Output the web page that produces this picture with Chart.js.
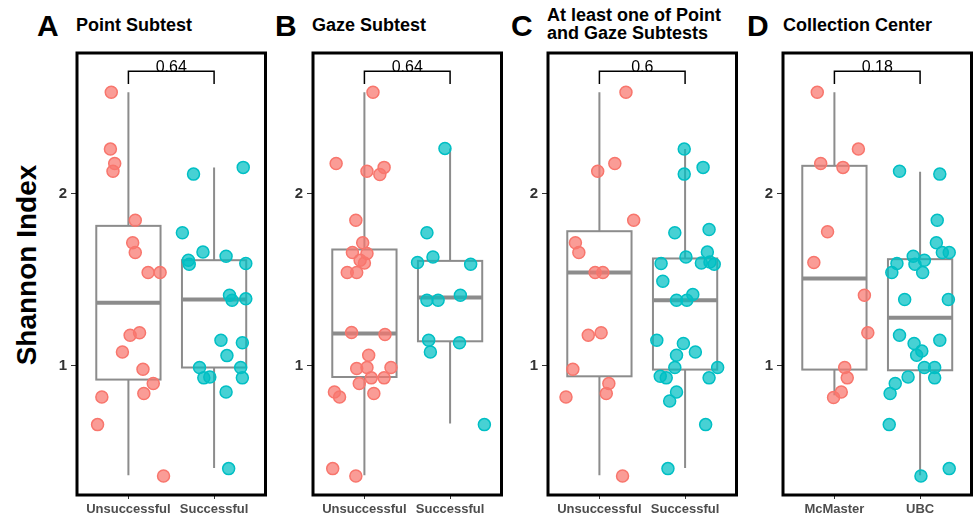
<!DOCTYPE html>
<html>
<head>
<meta charset="utf-8">
<script src="https://cdn.jsdelivr.net/npm/chart.js@4.4.1/dist/chart.umd.min.js"></script>
<style>
  body { margin: 0; background: #fff; width: 975px; height: 519px; overflow: hidden; position: relative;
         font-family: "Liberation Sans", Arial, sans-serif; }
  .wrap { position: absolute; top: 39px; width: 236px; height: 480px; }
  .letter { position: absolute; font-weight: bold; font-size: 30px; line-height: 30px; top: 11px; color: #000; }
  .title { position: absolute; font-weight: bold; font-size: 18px; line-height: 18px; top: 16px; color: #000; white-space: nowrap; }
  .ylab { position: absolute; left: 27px; top: 265px; font-weight: bold; font-size: 28px; line-height: 28px;
          transform: translate(-50%, -50%) rotate(-90deg); white-space: nowrap; color: #000; }
</style>
</head>
<body>
<div class="ylab">Shannon Index</div>

<div class="letter" style="left:37px">A</div>
<div class="title" style="left:76px">Point Subtest</div>
<div class="letter" style="left:275px">B</div>
<div class="title" style="left:312px">Gaze Subtest</div>
<div class="letter" style="left:511px">C</div>
<div class="title" style="left:547px;top:6px">At least one of Point<br>and Gaze Subtests</div>
<div class="letter" style="left:747px">D</div>
<div class="title" style="left:783px">Collection Center</div>

<div class="wrap" style="left:37px"><canvas id="panelA" width="236" height="480"></canvas></div>
<div class="wrap" style="left:273px"><canvas id="panelB" width="236" height="480"></canvas></div>
<div class="wrap" style="left:508px"><canvas id="panelC" width="236" height="480"></canvas></div>
<div class="wrap" style="left:743px"><canvas id="panelD" width="236" height="480"></canvas></div>

<script>
// y range of every panel (Shannon index)
const yMin = 0.252;
const yMax = 2.814;
const yTicks = [1, 2];

// A - Point Subtest
const aLabels = ['Unsuccessful', 'Successful'];
const aUnsY = [2.586, 2.257, 2.174, 2.129, 1.845, 1.714, 1.658, 1.542, 1.542, 1.178, 1.192, 1.081, 0.981, 0.898, 0.840, 0.820, 0.660, 0.362];
const aUnsJ = [-0.20, -0.21, -0.16, -0.18, 0.08, 0.05, 0.08, 0.23, 0.37, 0.02, 0.13, -0.07, 0.17, 0.29, 0.18, -0.31, -0.36, 0.41];
const aSucY = [2.151, 2.112, 1.772, 1.660, 1.636, 1.613, 1.590, 1.594, 1.410, 1.381, 1.389, 1.149, 1.134, 1.060, 0.991, 0.991, 0.931, 0.936, 0.931, 0.849, 0.405];
const aSucJ = [0.34, -0.24, -0.37, -0.13, 0.14, -0.30, -0.29, 0.37, 0.18, 0.21, 0.37, 0.08, 0.33, 0.15, -0.17, 0.31, -0.12, -0.05, 0.33, 0.14, 0.17];
// [lower whisker, q1, median, q3, upper whisker]
const aBoxUns = [0.366, 0.921, 1.366, 1.812, 2.586];
const aBoxSuc = [0.409, 0.991, 1.385, 1.613, 2.151];
const aP = '0.64';

// B - Gaze Subtest
const bLabels = ['Unsuccessful', 'Successful'];
const bUnsY = [2.586, 2.174, 2.129, 2.151, 2.110, 1.845, 1.714, 1.658, 1.652, 1.613, 1.597, 1.542, 1.542, 1.194, 1.182, 1.062, 0.985, 0.991, 0.991, 0.931, 0.931, 0.898, 0.849, 0.820, 0.840, 0.405, 0.362];
const bUnsJ = [0.10, -0.33, 0.03, 0.23, 0.18, -0.10, -0.02, -0.14, 0.03, -0.05, 0.00, -0.20, -0.09, -0.15, 0.24, 0.05, -0.09, 0.03, 0.31, 0.08, 0.23, -0.06, -0.35, -0.29, 0.11, -0.37, -0.10];
const bSucY = [2.261, 1.772, 1.632, 1.600, 1.590, 1.410, 1.381, 1.381, 1.149, 1.134, 1.081, 0.660];
const bSucJ = [-0.06, -0.27, -0.20, -0.38, 0.24, 0.12, -0.27, -0.14, -0.25, 0.11, -0.23, 0.40];
const bBoxUns = [0.366, 0.936, 1.188, 1.675, 2.586];
const bBoxSuc = [0.666, 1.143, 1.397, 1.609, 2.261];
const bP = '0.64';

// C - At least one of Point and Gaze Subtests
const cLabels = ['Unsuccessful', 'Successful'];
const cUnsY = [2.586, 2.174, 2.129, 1.845, 1.714, 1.658, 1.542, 1.542, 1.178, 1.192, 0.981, 0.898, 0.840, 0.820, 0.362];
const cUnsJ = [0.31, 0.18, -0.02, 0.40, -0.28, -0.24, -0.05, 0.04, -0.13, 0.02, -0.31, 0.11, 0.08, -0.39, 0.27];
const cSucY = [2.257, 2.151, 2.112, 1.791, 1.772, 1.660, 1.632, 1.594, 1.597, 1.603, 1.590, 1.491, 1.414, 1.381, 1.381, 1.149, 1.130, 1.081, 1.062, 0.991, 0.991, 0.940, 0.931, 0.931, 0.849, 0.797, 0.660, 0.405];
const cSucJ = [-0.01, 0.21, -0.01, 0.28, -0.12, 0.26, 0.01, -0.28, 0.19, 0.29, 0.34, -0.26, 0.09, -0.10, 0.02, -0.33, -0.02, 0.12, -0.10, -0.12, 0.38, -0.29, -0.22, 0.28, -0.10, -0.18, 0.24, -0.20];
const cBoxUns = [0.366, 0.940, 1.542, 1.781, 2.586];
const cBoxSuc = [0.409, 0.979, 1.381, 1.623, 2.257];
const cP = '0.6';

// D - Collection Center
const dLabels = ['McMaster', 'UBC'];
const dMcY = [2.586, 2.257, 2.174, 2.151, 1.778, 1.600, 1.410, 1.192, 0.991, 0.931, 0.849, 0.817];
const dMcJ = [-0.20, 0.28, -0.16, 0.10, -0.08, -0.24, 0.35, 0.39, 0.12, 0.15, 0.08, -0.01];
const dUbcY = [2.129, 2.112, 1.845, 1.714, 1.658, 1.658, 1.636, 1.613, 1.594, 1.590, 1.542, 1.542, 1.385, 1.385, 1.178, 1.130, 1.149, 1.087, 1.062, 0.991, 0.991, 0.936, 0.931, 0.898, 0.840, 0.660, 0.405, 0.362];
const dUbcJ = [-0.24, 0.23, 0.20, 0.19, 0.26, 0.34, -0.08, 0.05, -0.27, -0.06, -0.33, 0.03, -0.18, 0.33, -0.24, -0.07, 0.23, 0.02, -0.04, 0.05, 0.17, -0.14, 0.17, -0.29, -0.35, -0.36, 0.34, 0.01];
const dBoxMc = [0.830, 0.979, 1.507, 2.160, 2.586];
const dBoxUbc = [0.366, 0.975, 1.279, 1.619, 2.125];
const dP = '0.18';

// bracket height for the p-value
const bracketY = 2.708;
const bracketTip = 2.634;

Chart.defaults.font.family = "'Liberation Sans', Arial, sans-serif";

// boxes go under the points
const boxPlugin = {
    id: 'boxes',
    beforeDatasetsDraw: function (chart) {
        var ctx = chart.ctx;
        var xs = chart.scales.x, ys = chart.scales.y;
        chart.options.plugins.boxes.stats.forEach(function (b, i) {
            var c = i + 1;
            var x0 = xs.getPixelForValue(c - 0.375), x1 = xs.getPixelForValue(c + 0.375);
            var xc = xs.getPixelForValue(c);
            ctx.save();
            ctx.strokeStyle = '#8c8c8c';
            ctx.lineWidth = 2;
            ctx.beginPath();
            ctx.moveTo(xc, ys.getPixelForValue(b[4]));
            ctx.lineTo(xc, ys.getPixelForValue(b[3]));
            ctx.moveTo(xc, ys.getPixelForValue(b[1]));
            ctx.lineTo(xc, ys.getPixelForValue(b[0]));
            ctx.stroke();
            var top = ys.getPixelForValue(b[3]), bot = ys.getPixelForValue(b[1]);
            ctx.fillStyle = '#fff';
            ctx.fillRect(x0, top, x1 - x0, bot - top);
            ctx.strokeRect(x0, top, x1 - x0, bot - top);
            ctx.lineWidth = 4;
            ctx.beginPath();
            ctx.moveTo(x0, ys.getPixelForValue(b[2]));
            ctx.lineTo(x1, ys.getPixelForValue(b[2]));
            ctx.stroke();
            ctx.restore();
        });
    },
    afterDraw: function (chart) {
        var ctx = chart.ctx;
        var a = chart.chartArea;
        var xs = chart.scales.x, ys = chart.scales.y;
        ctx.save();
        // p-value bracket
        var y0 = ys.getPixelForValue(bracketY), yt = ys.getPixelForValue(bracketTip);
        var x1 = xs.getPixelForValue(1), x2 = xs.getPixelForValue(2);
        ctx.strokeStyle = '#000';
        ctx.lineWidth = 1.5;
        ctx.beginPath();
        ctx.moveTo(x1, yt);
        ctx.lineTo(x1, y0);
        ctx.lineTo(x2, y0);
        ctx.lineTo(x2, yt);
        ctx.stroke();
        ctx.fillStyle = '#000';
        ctx.font = "16px 'Liberation Sans', Arial, sans-serif";
        ctx.textAlign = 'center';
        ctx.textBaseline = 'alphabetic';
        ctx.fillText(chart.options.plugins.boxes.p, (x1 + x2) / 2, y0 + 0.5);
        // panel frame
        ctx.lineWidth = 3;
        ctx.strokeRect(a.left, a.top, a.right - a.left, a.bottom - a.top);
        ctx.restore();
    }
};

function makePanel(id, labels, g1y, g1j, g2y, g2j, box1, box2, p) {
    var ctx = document.getElementById(id);
    new Chart(ctx, {
        type: 'scatter',
        data: {
            datasets: [
                {
                    data: g1y.map(function (v, i) { return { x: 1 + g1j[i], y: v }; }),
                    backgroundColor: 'rgba(248, 118, 109, 0.72)',
                    borderColor: '#F8766D',
                    borderWidth: 1.5,
                    pointRadius: 6
                },
                {
                    data: g2y.map(function (v, i) { return { x: 2 + g2j[i], y: v }; }),
                    backgroundColor: 'rgba(0, 191, 196, 0.72)',
                    borderColor: '#00BFC4',
                    borderWidth: 1.5,
                    pointRadius: 6
                }
            ]
        },
        options: {
            responsive: false,
            animation: false,
            layout: { padding: { top: 14, right: 6, left: 0, bottom: 0 } },
            plugins: {
                legend: { display: false },
                tooltip: { enabled: false },
                boxes: { stats: [box1, box2], p: p }
            },
            scales: {
                x: {
                    type: 'linear',
                    min: 0.4,
                    max: 2.6,
                    afterBuildTicks: function (s) { s.ticks = [{ value: 1 }, { value: 2 }]; },
                    afterFit: function (s) { s.height = 24; },
                    ticks: {
                        callback: function (v) { return labels[v - 1]; },
                        font: { size: 13, weight: 'bold' },
                        color: '#4d4d4d',
                        padding: 3,
                        maxRotation: 0,
                        autoSkip: false
                    },
                    grid: { drawOnChartArea: false, tickLength: 4, color: '#333' },
                    border: { display: false }
                },
                y: {
                    min: yMin,
                    max: yMax,
                    afterBuildTicks: function (s) { s.ticks = yTicks.map(function (v) { return { value: v }; }); },
                    afterFit: function (s) { s.width = 40; },
                    ticks: {
                        callback: function (v) { return String(v); },
                        font: { size: 15, weight: 'bold' },
                        color: '#333',
                        padding: 4
                    },
                    grid: { drawOnChartArea: false, tickLength: 6, color: '#333' },
                    border: { display: false }
                }
            }
        },
        plugins: [boxPlugin]
    });
}

makePanel('panelA', aLabels, aUnsY, aUnsJ, aSucY, aSucJ, aBoxUns, aBoxSuc, aP);
makePanel('panelB', bLabels, bUnsY, bUnsJ, bSucY, bSucJ, bBoxUns, bBoxSuc, bP);
makePanel('panelC', cLabels, cUnsY, cUnsJ, cSucY, cSucJ, cBoxUns, cBoxSuc, cP);
makePanel('panelD', dLabels, dMcY, dMcJ, dUbcY, dUbcJ, dBoxMc, dBoxUbc, dP);
</script>
</body>
</html>
